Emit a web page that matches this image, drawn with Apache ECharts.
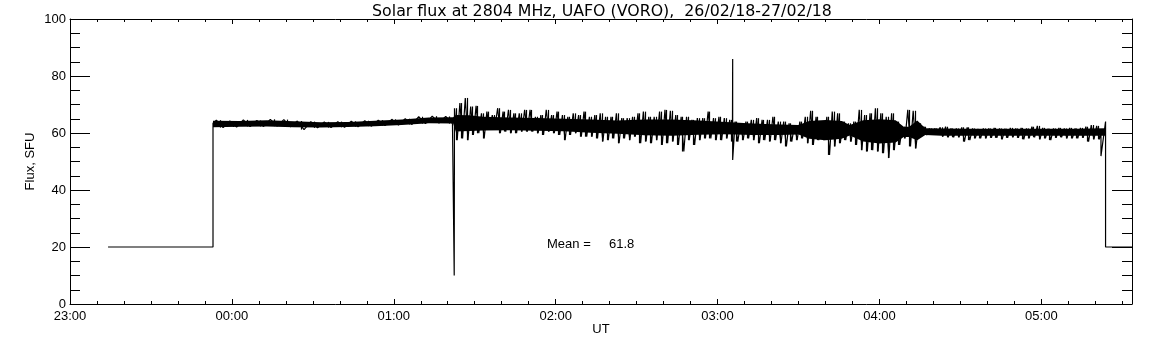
<!DOCTYPE html>
<html>
<head>
<meta charset="utf-8">
<script src="https://cdn.jsdelivr.net/npm/echarts@6/dist/echarts.min.js"></script>
<style>
  html, body { margin: 0; padding: 0; background: #fff; }
  #chart { width: 1152px; height: 345px; }
</style>
</head>
<body>
<div id="chart"></div>
<script>
// times are minutes after 23:00 UT
const axisEnd = 393.6;
const hourLabels = ["23:00", "00:00", "01:00", "02:00", "03:00", "04:00", "05:00"];
const yTicks = [0, 20, 40, 60, 80, 100];

// receiver off level before and after the record
const edgeT = [14.1, 53, 53];
const edgeV = [20, 20, 63.4];
const tailT = [axisEnd];
const tailV = [20];

// 23:53 - 01:22, 5 min bins (max / min of the trace)
const quietAStart = 55.5, quietAStep = 5;
const quietAHi = [64.5, 64.2, 64.6, 64.4, 64.8, 64.7, 64.2, 64.0, 63.9, 64.0, 64.1, 64.3, 64.5, 64.8, 65.0, 65.7, 65.9, 65.8];
const quietALo = [61.9, 62.1, 62.3, 62.3, 62.4, 62.2, 61.2, 61.8, 61.9, 62.0, 62.2, 62.4, 62.6, 62.8, 63.0, 63.3, 63.5, 63.3];

// 01:23 - 04:21, 2 min bins
const noisyStart = 143, noisyStep = 2;
const noisyHi = [
  68.7, 70.5, 72.3, 69.3, 69.5, 66.9, 67.5, 66.3, 68.7, 67.5, 68.1, 66.9, 66.9, 68.1, 68.1, 65.7, 66.3, 68.1, 66.3, 67.5,
  66.3, 65.7, 66.9, 66.3, 67.5, 65.7, 66.3, 66.9, 65.7,
  65.7, 66.9, 65.2, 65.2, 65.7, 66.9, 67.5, 65.7, 65.7, 67.5, 68.1, 67.8, 66.3, 65.7, 65.7, 64.6, 65.2, 65.2, 67.5, 65.2,
  65.7, 65.2, 64.6, 64.0, 63.4, 64.0, 64.6, 65.2, 64.6, 64.6, 65.7,
  64.0, 64.0, 63.4, 62.8, 64.0, 65.7, 67.8, 65.7, 64.0, 65.7, 67.5, 66.9, 64.0, 63.4, 64.0, 68.1, 66.3, 66.9, 68.7, 66.9,
  65.7, 66.9, 64.0, 62.2, 68.1, 67.8, 63.4, 62.2, 61.6, 61.6
];
const noisyLo = [
  57.5, 58.1, 57.5, 59.3, 59.9, 58.1, 61.1, 62.2, 59.9, 60.5, 59.9, 59.9, 60.5, 60.5, 60.5, 59.9, 59.3, 60.5, 59.9, 59.3,
  57.5, 59.3, 59.9, 58.7, 58.7, 58.7, 58.1, 57.0, 57.5,
  58.1, 56.4, 58.1, 57.5, 58.7, 56.4, 57.0, 56.4, 57.5, 55.8, 56.4, 57.0, 55.8, 53.5, 57.5, 55.8, 57.5, 58.1, 58.1, 57.5,
  57.5, 58.1, 57.0, 57.0, 57.5, 58.1, 57.5, 56.4, 57.5, 57.0, 57.5,
  56.4, 55.3, 57.0, 57.5, 58.1, 56.4, 55.8, 57.5, 57.5, 52.3, 55.3, 56.4, 57.5, 57.0, 55.8, 54.0, 53.5, 54.0, 53.5, 52.9,
  51.2, 54.0, 55.8, 58.1, 55.3, 54.6, 58.7, 59.3, 59.9, 59.9
];

// 04:23 - 05:21, 2 min bins
const quietBStart = 323, quietBStep = 2;
const quietBHi = [62.0, 62.2, 61.6, 61.6, 62.0, 62.0, 61.6, 61.4, 61.6, 61.6, 61.8, 61.6, 61.5, 61.8, 61.6, 61.8, 61.6, 62.2, 62.5, 61.8,
  61.5, 61.6, 61.8, 61.6, 61.8, 61.6, 61.8, 62.2, 62.8, 62.5];
const quietBLo = [58.7, 58.5, 58.5, 58.5, 57.0, 57.5, 58.1, 58.1, 58.1, 58.3, 58.3, 57.8, 58.3, 58.5, 58.3, 57.8, 58.1, 58.5, 57.8, 58.1,
  57.5, 58.3, 58.5, 58.1, 58.1, 58.1, 58.3, 57.0, 57.8, 57.8];

// single spikes and the final drop
const spikeT = [142.4, 245.6, 382.1, 383.8];
const spikeHi = [63.8, 86.0, 60.5, 64.0];
const spikeLo = [10.0, 50.5, 51.9, 20.0];

// solid core of the trace
const coreT = [53, 63, 73, 83, 93, 103, 113, 123, 133, 142,
  143, 148, 153, 163, 173, 183, 193, 203, 213, 223, 233, 243, 253, 263,
  270, 274, 280, 286, 289, 294, 300, 306, 309, 311, 314, 317,
  323, 333, 343, 353, 363, 373, 383.8];
const coreHi = [64.3, 64.2, 64.5, 64.1, 63.8, 63.9, 64.3, 64.7, 65.4, 65.5,
  66.3, 66.2, 65.7, 65.4, 65.3, 65.0, 64.7, 64.4, 64.7, 64.7, 64.4, 63.9, 63.3, 63.0,
  62.8, 64.2, 64.6, 64.2, 62.8, 64.5, 64.8, 64.5, 62.2, 62.2, 64.4, 61.7,
  61.6, 61.5, 61.5, 61.5, 61.5, 61.5, 61.7];
const coreLo = [62.0, 62.2, 62.3, 62.0, 61.9, 62.1, 62.4, 62.8, 63.4, 63.3,
  60.5, 60.7, 60.9, 61.0, 60.8, 60.6, 60.1, 59.7, 59.2, 59.0, 59.4, 59.6, 59.3, 59.3,
  59.5, 58.0, 57.5, 58.0, 59.1, 57.0, 56.3, 56.7, 58.6, 58.6, 57.5, 59.3,
  59.0, 59.0, 59.0, 59.0, 59.0, 59.0, 59.0];

const meanFlux = 61.8;

const FONT = "Liberation Sans, Arial, sans-serif";

function binList() {
  const bins = [];
  const add = (start, step, hi, lo) => hi.forEach((h, i) => bins.push({ c: start + i * step, step, hi: h, lo: lo[i] }));
  add(quietAStart, quietAStep, quietAHi, quietALo);
  add(noisyStart, noisyStep, noisyHi, noisyLo);
  add(quietBStart, quietBStep, quietBHi, quietBLo);
  return bins;
}

function tracePoints() {
  const pts = [];
  edgeT.forEach((t, i) => pts.push([t, edgeV[i]]));
  binList().forEach((b) => pts.push([b.c - b.step / 4, b.hi], [b.c + b.step / 4, b.lo]));
  spikeT.forEach((t, i) => pts.push([t, spikeHi[i]], [t, spikeLo[i]]));
  tailT.forEach((t, i) => pts.push([t, tailV[i]]));
  return pts.map((p, i) => ({ p, i })).sort((a, b) => a.p[0] - b.p[0] || a.i - b.i).map((o) => o.p);
}

function hourLabel(v) {
  const idx = v / 60;
  return Number.isInteger(idx) && hourLabels[idx] ? hourLabels[idx] : "";
}

const black = { color: "#000", width: 1 };

function xAxisDef(position, interval, tickLen, withLabels) {
  return {
    type: "value",
    position,
    min: 0,
    max: axisEnd,
    interval,
    splitLine: { show: false },
    axisLine: { show: tickLen > 4, onZero: false, lineStyle: black },
    axisTick: { show: true, inside: true, length: tickLen, lineStyle: black },
    axisLabel: withLabels
      ? { show: true, formatter: hourLabel, color: "#000", fontSize: 13, fontFamily: FONT, margin: 6, showMaxLabel: false }
      : { show: false },
    name: withLabels ? "UT" : "",
    nameLocation: "middle",
    nameGap: 19,
    nameMoveOverlap: false,
    nameTextStyle: { color: "#000", fontSize: 13, fontFamily: FONT },
  };
}

function yAxisDef(position, withLabels) {
  return {
    type: "value",
    position,
    min: yTicks[0],
    max: yTicks[yTicks.length - 1],
    interval: yTicks[1] - yTicks[0],
    splitLine: { show: false },
    axisLine: { show: true, onZero: false, lineStyle: black },
    axisTick: { show: true, inside: true, length: 20, lineStyle: black },
    minorTick: { show: true, splitNumber: 4, length: 10, lineStyle: black },
    axisLabel: withLabels
      ? { show: true, color: "#000", fontSize: 13, fontFamily: FONT, margin: 4 }
      : { show: false },
    name: withLabels ? "Flux, SFU" : "",
    nameLocation: "middle",
    nameGap: 33,
    nameMoveOverlap: false,
    nameTextStyle: { color: "#000", fontSize: 13, fontFamily: FONT },
  };
}

const chart = echarts.init(document.getElementById("chart"), null, { renderer: "canvas" });
chart.setOption({
  animation: false,
  backgroundColor: "#fff",
  grid: { left: 70, right: 20, top: 19, bottom: 41, containLabel: false },
  xAxis: [
    xAxisDef("bottom", 60, 5, true),
    xAxisDef("bottom", 10, 3, false),
    xAxisDef("top", 60, 5, false),
    xAxisDef("top", 10, 3, false),
  ],
  yAxis: [yAxisDef("left", true), yAxisDef("right", false)],
  graphic: [
    {
      type: "text",
      x: 602,
      y: 4,
      style: {
        text: "Solar flux at 2804 MHz, UAFO (VORO),  26/02/18-27/02/18",
        fill: "#000",
        font: "15.8px DejaVu Sans",
        textAlign: "center",
      },
    },
    { type: "text", x: 547, y: 238, style: { text: "Mean =", fill: "#000", font: "13px " + FONT } },
    { type: "text", x: 609, y: 238, style: { text: meanFlux.toFixed(1), fill: "#000", font: "13px " + FONT } },
  ],
  series: [
    {
      type: "custom",
      xAxisIndex: 0,
      yAxisIndex: 0,
      silent: true,
      data: [0],
      renderItem: (params, api) => {
        const top = coreT.map((t, i) => api.coord([t, coreHi[i]]));
        const bottom = coreT.map((t, i) => api.coord([t, coreLo[i]])).reverse();
        return { type: "polygon", shape: { points: top.concat(bottom) }, style: { fill: "#000" } };
      },
    },
    {
      type: "custom",
      xAxisIndex: 0,
      yAxisIndex: 0,
      silent: true,
      data: binList().map((b) => [b.c, b.lo, b.hi]),
      encode: { x: 0, y: [1, 2] },
      renderItem: (params, api) => {
        const a = api.coord([api.value(0), api.value(1)]);
        const b = api.coord([api.value(0), api.value(2)]);
        const x = Math.round(a[0]) + 0.5;
        return { type: "line", shape: { x1: x, y1: a[1], x2: x, y2: b[1] }, style: { stroke: "#000", lineWidth: 1.2 } };
      },
    },
    {
      type: "line",
      xAxisIndex: 0,
      yAxisIndex: 0,
      showSymbol: false,
      symbol: "none",
      silent: true,
      lineStyle: { color: "#000", width: 1.2 },
      data: tracePoints(),
    },
  ],
});
</script>
</body>
</html>
